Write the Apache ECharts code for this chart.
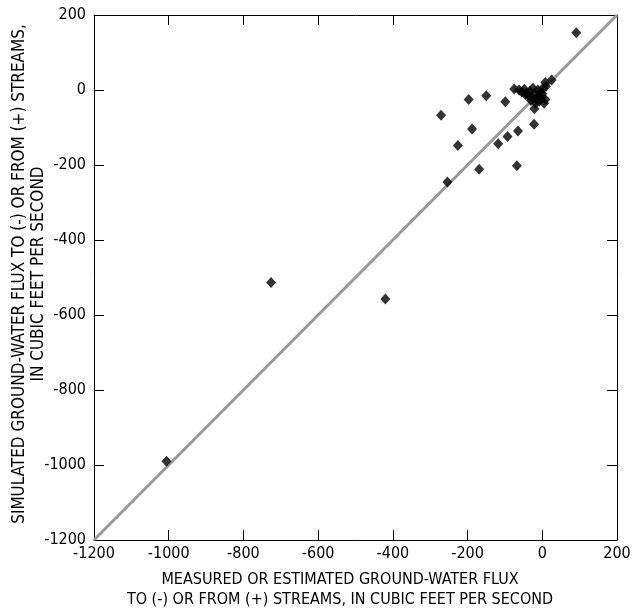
<!DOCTYPE html>
<html><head><meta charset="utf-8">
<script src="https://cdn.jsdelivr.net/npm/echarts@6/dist/echarts.min.js"></script>
<style>html,body{margin:0;padding:0;background:#fff}#c{width:636px;height:612px}</style>
</head><body><div id="c"></div>
<script>
var xTicks = [-1200,-1000,-800,-600,-400,-200,0,200];
var yTicks = [-1200,-1000,-800,-600,-400,-200,0,200];
var measured = [-1006,-726,-420,91,-271,-197,-150,-99,-188,-226,-118,-93,-65,-22,-21,-169,-68,-254,25,
  -75,-62,-55,-48,-42,-38,-33,-28,-25,-20,-15,-12,-10,-8,-5,-3,0,2,5,8,10,8,-45,-30,-18];
var simulated = [-990,-513,-557,153,-67,-25,-15,-31,-104,-148,-143,-124,-109,-91,-50,-211,-202,-245,27,
  3,0,-5,2,-8,-15,-3,-20,5,-10,-25,0,-15,-30,-5,-20,-10,5,-35,-25,10,20,-12,-28,-35];
var lineX = [-1200,200];
var lineY = [-1200,200];
var xTitle1 = 'MEASURED OR ESTIMATED GROUND-WATER FLUX';
var xTitle2 = 'TO (-) OR FROM (+) STREAMS, IN CUBIC FEET PER SECOND';
var yTitle1 = 'SIMULATED GROUND-WATER FLUX TO (-) OR FROM (+) STREAMS,';
var yTitle2 = 'IN CUBIC FEET PER SECOND';

var FONT = "'Liberation Sans Narrow','DejaVu Sans Condensed',sans-serif";
var pts = measured.map(function(v,i){return [v, simulated[i]];});
var linePts = lineX.map(function(v,i){return [v, lineY[i]];});
var chart = echarts.init(document.getElementById('c'), null, {renderer:'canvas'});
function fmt(v){ return String(v); }
var axCommon = {
  type:'value', min:xTicks[0], max:xTicks[xTicks.length-1], interval:200,
  axisLine:{show:true, onZero:false, lineStyle:{color:'#000', width:1}},
  axisTick:{show:true, inside:true, length:10, lineStyle:{color:'#000'}},
  splitLine:{show:false}
};
chart.setOption({
  animation:false,
  grid:{left:94, right:19, top:15, bottom:72, show:false},
  xAxis:[
    Object.assign({}, axCommon, {position:'bottom', axisLabel:{color:'#000', fontFamily:FONT, fontSize:16, margin:6, formatter:fmt}}),
    Object.assign({}, axCommon, {position:'top', axisLabel:{show:false}})
  ],
  yAxis:[
    Object.assign({}, axCommon, {min:yTicks[0], max:yTicks[yTicks.length-1], position:'left', axisLabel:{color:'#000', fontFamily:FONT, fontSize:16, margin:8, formatter:fmt}}),
    Object.assign({}, axCommon, {min:yTicks[0], max:yTicks[yTicks.length-1], position:'right', axisLabel:{show:false}})
  ],
  graphic:[
    {type:'text', x:340, y:580, style:{text:xTitle1, font:'16px '+FONT, fill:'#000', textAlign:'center', textVerticalAlign:'middle'}},
    {type:'text', x:340, y:600, style:{text:xTitle2, font:'16px '+FONT, fill:'#000', textAlign:'center', textVerticalAlign:'middle'}},
    {type:'text', rotation:Math.PI/2, x:20, y:274, style:{text:yTitle1, font:'17px '+FONT, fill:'#000', textAlign:'center', textVerticalAlign:'middle'}},
    {type:'text', rotation:Math.PI/2, x:39, y:274, style:{text:yTitle2, font:'17px '+FONT, fill:'#000', textAlign:'center', textVerticalAlign:'middle'}}
  ],
  series:[
    {type:'line', data:linePts, symbol:'none', lineStyle:{color:'#999', width:3}, silent:true, z:1},
    {type:'scatter', data:pts, symbol:'diamond', symbolSize:[10,11], itemStyle:{color:'#000'}, z:2}
  ]
});
</script></body></html>
